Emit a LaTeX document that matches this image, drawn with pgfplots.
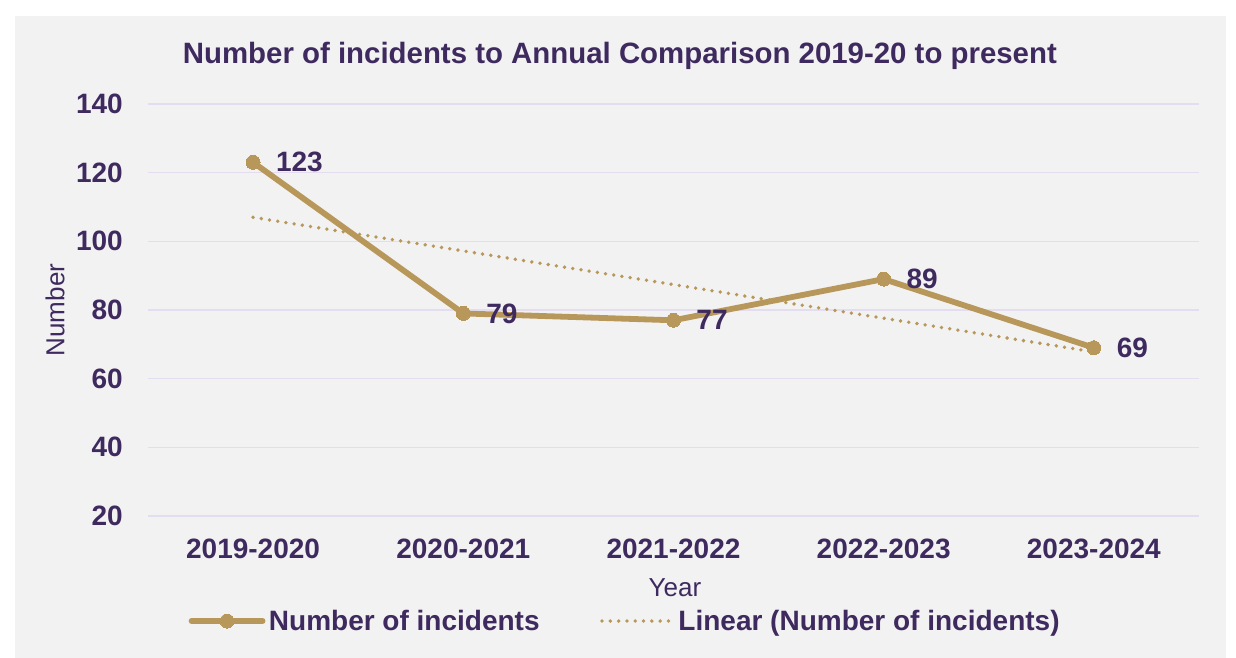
\documentclass[border=0pt]{standalone}
\usepackage{pgfplots}
\pgfplotsset{compat=1.18}
\usepackage{fontspec}
\setmainfont{Liberation Sans}
\definecolor{gold}{HTML}{B8975A}
\definecolor{purp}{HTML}{3E2A5E}
\definecolor{bgc}{HTML}{F2F2F2}
\definecolor{gridc}{HTML}{E4DDF0}
\begin{document}
\begin{tikzpicture}
\useasboundingbox (0,0) rectangle (1236pt,658pt);
\fill[white] (0,0) rectangle (1236pt,658pt);
\fill[bgc] (15pt,0) rectangle (1226pt,642pt);
\begin{axis}[
  at={(148pt,142pt)}, anchor=south west,
  scale only axis, width=1051pt, height=412pt,
  xmin=-0.5, xmax=4.5, ymin=20, ymax=140,
  xtick={0,1,2,3,4},
  xticklabels={2019-2020,2020-2021,2021-2022,2022-2023,2023-2024},
  ytick={20,40,60,80,100,120,140},
  /pgf/number format/assume math mode=true,
  axis line style={draw=none},
  major tick style={draw=none},
  ymajorgrids, grid style={color=gridc, line width=1.5pt},
  tick label style={font=\fontsize{28}{30}\selectfont\bfseries, text=purp, inner sep=0pt},
  yticklabel style={anchor=east, xshift=-25pt},
  xticklabel style={anchor=center, yshift=-33pt},
  title={Number of incidents to Annual Comparison 2019-20 to present},
  title style={at={(axis description cs:0.449,1)}, anchor=base, yshift=34pt,
    font=\fontsize{29.4}{32}\selectfont\bfseries, text=purp},
  xlabel={Year},
  xlabel style={at={(axis description cs:0.5014,0)}, anchor=center, yshift=-72pt,
    font=\fontsize{26}{28}\selectfont, text=purp},
  ylabel={Number},
  every axis y label/.style={at={(axis description cs:-0.0885,0.5)}, rotate=90, anchor=center,
    font=\fontsize{26}{28}\selectfont, text=purp},
  legend columns=2,
  legend style={at={(axis description cs:0.0385,-0.2549)}, anchor=west,
    draw=none, fill=none, inner xsep=0pt, inner ysep=0pt,
    nodes={inner sep=3.5pt},
    font=\fontsize{28}{30}\selectfont\bfseries, text=purp,
    /tikz/every even column/.append style={column sep=57pt}},
  legend image code/.code={\draw[mark repeat=2,mark phase=2,#1] plot coordinates {(0pt,0pt) (35.5pt,0pt) (71pt,0pt)};},
  clip=false,
]
\addplot[color=gold, line width=5.8pt, line join=round, line cap=round,
  mark=*, mark size=7pt, mark options={fill=gold, draw=gold, line width=0pt},
  nodes near coords, point meta=explicit,
  every node near coord/.append style={anchor=west, xshift=23pt, inner sep=0pt,
    font=\fontsize{28}{30}\selectfont\bfseries, text=purp}]
  coordinates {(0,123)[123] (1,79)[79] (2,77)[77] (3,89)[89] (4,69)[69]};
\addlegendentry{Number of incidents}
\addplot[color=gold, line width=3.8pt, line cap=round, dash pattern=on 0pt off 8.3pt]
  coordinates {(0,107.0) (4,67.8)};
\addlegendentry{Linear (Number of incidents)}
\end{axis}
\end{tikzpicture}
\end{document}
